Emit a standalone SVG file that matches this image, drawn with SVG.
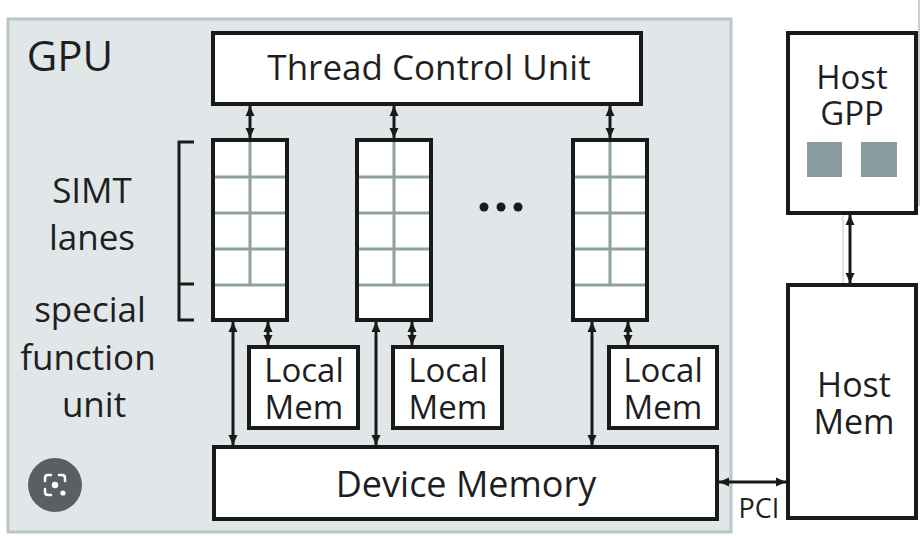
<svg xmlns="http://www.w3.org/2000/svg" width="922" height="536" viewBox="0 0 922 536">
  <defs>
    <marker id="head" viewBox="0 0 10 10" refX="10" refY="5" markerWidth="10" markerHeight="10" markerUnits="userSpaceOnUse" orient="auto-start-reverse">
      <path d="M0,0.5 L10,5 L0,9.5 z" fill="#1a1a1a"/>
    </marker>
    <g id="lanes">
      <rect x="0" y="0" width="74" height="180" fill="#fff"/>
      <path d="M37,0 V145 M0,37 H74 M0,73 H74 M0,109 H74 M0,145 H74" stroke="#8fa1a1" stroke-width="3" fill="none"/>
      <rect x="0" y="0" width="74" height="180" fill="none" stroke="#1a1a1a" stroke-width="4"/>
    </g>
  </defs>
  <style>
    .box { fill: #fff; stroke: #1a1a1a; stroke-width: 4; }
    .lbl { font-family: "Open Sans", "Noto Sans", sans-serif; fill: #1f1f1f; text-anchor: middle; }
    .wire { stroke: #1a1a1a; stroke-width: 3; fill: none; marker-start: url(#head); marker-end: url(#head); }
  </style>

  <rect width="922" height="536" fill="#fff"/>
  <line x1="919" y1="0" x2="919" y2="206" stroke="#c9cdcd" stroke-width="2"/>

  <!-- GPU enclosure -->
  <g id="gpu">
    <rect x="8" y="19" width="723" height="513" fill="#e1e6e8" stroke="#b7c6c6" stroke-width="3"/>
    <text class="lbl" x="70" y="71" font-size="42">GPU</text>
  </g>

  <g id="thread-control-unit">
    <rect class="box" x="213" y="33" width="428" height="71"/>
    <text class="lbl" x="429" y="80" font-size="35">Thread Control Unit</text>
  </g>

  <!-- side labels with bracket -->
  <g id="lane-labels">
    <path d="M194,142 H179 V320 H194 M179,284 H194" stroke="#1a1a1a" stroke-width="3" fill="none"/>
    <text class="lbl" x="92" y="203" font-size="35">SIMT</text>
    <text class="lbl" x="92" y="250" font-size="35">lanes</text>
    <text class="lbl" x="90" y="322" font-size="35">special</text>
    <text class="lbl" x="88" y="370" font-size="35">function</text>
    <text class="lbl" x="94" y="417" font-size="35">unit</text>
  </g>

  <g id="simt-1"><use href="#lanes" x="213" y="140"/></g>
  <g id="simt-2"><use href="#lanes" x="357" y="140"/></g>
  <g id="simt-3"><use href="#lanes" x="573" y="140"/></g>

  <g id="ellipsis" fill="#1a1a1a">
    <circle cx="484" cy="207" r="4.5"/>
    <circle cx="501" cy="207" r="4.5"/>
    <circle cx="518" cy="207" r="4.5"/>
  </g>

  <g id="local-mem-1">
    <rect class="box" x="249" y="347" width="109" height="81"/>
    <text class="lbl" x="304" y="382" font-size="33">Local</text>
    <text class="lbl" x="304" y="419" font-size="33">Mem</text>
  </g>
  <g id="local-mem-2">
    <rect class="box" x="393" y="347" width="109" height="81"/>
    <text class="lbl" x="448" y="382" font-size="33">Local</text>
    <text class="lbl" x="448" y="419" font-size="33">Mem</text>
  </g>
  <g id="local-mem-3">
    <rect class="box" x="609" y="347" width="108" height="81"/>
    <text class="lbl" x="663" y="382" font-size="33">Local</text>
    <text class="lbl" x="663" y="419" font-size="33">Mem</text>
  </g>

  <g id="device-memory">
    <rect class="box" x="214" y="447" width="503" height="72"/>
    <text class="lbl" x="466" y="497" font-size="36">Device Memory</text>
  </g>

  <g id="host-gpp">
    <rect class="box" x="788" y="33" width="128" height="180"/>
    <text class="lbl" x="852" y="89" font-size="33">Host</text>
    <text class="lbl" x="852" y="125" font-size="33">GPP</text>
    <rect x="807" y="142" width="35" height="35" fill="#8a9d9e"/>
    <rect x="861" y="142" width="36" height="35" fill="#8a9d9e"/>
  </g>

  <g id="host-mem">
    <rect class="box" x="788" y="285" width="128" height="233"/>
    <text class="lbl" x="854" y="397" font-size="34">Host</text>
    <text class="lbl" x="854" y="434" font-size="34">Mem</text>
  </g>

  <!-- lens badge -->
  <g id="lens-badge">
    <circle cx="55" cy="485" r="27" fill="#5b5f63"/>
    <path d="M45,481 V478 Q45,475 48,475 H51 M59,475 H62 Q65,475 65,478 V481 M45,489 V492 Q45,495 48,495 H51" stroke="#fff" stroke-width="2.5" fill="none" stroke-linecap="round"/>
    <circle cx="55" cy="485" r="3.2" fill="#fff"/>
    <circle cx="63" cy="493" r="2.6" fill="#fff"/>
  </g>

  <g id="connectors">
    <line x1="843" y1="215" x2="843" y2="283" stroke="#d5d9d9" stroke-width="1.5"/>
    <path class="wire" d="M250,106 V138"/>
    <path class="wire" d="M394,106 V138"/>
    <path class="wire" d="M610,106 V138"/>
    <path class="wire" d="M233,322 V445"/>
    <path class="wire" d="M376,322 V445"/>
    <path class="wire" d="M592,322 V445"/>
    <path class="wire" d="M268,322 V345"/>
    <path class="wire" d="M412,322 V345"/>
    <path class="wire" d="M628,322 V345"/>
    <path class="wire" d="M850,215 V283"/>
    <path class="wire" d="M719,482 H786"/>
    <text class="lbl" x="759" y="518" font-size="27">PCI</text>
  </g>
</svg>
